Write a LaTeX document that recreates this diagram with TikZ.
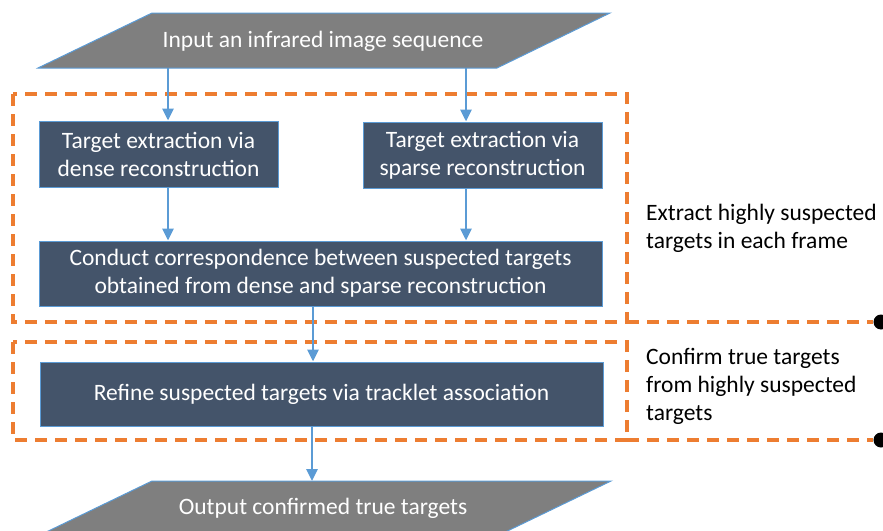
\documentclass[tikz,border=0pt]{standalone}
\usepackage{fontspec}
\setmainfont{Carlito}
\usetikzlibrary{arrows.meta}
\definecolor{boxfill}{HTML}{44546A}
\definecolor{edgeblue}{HTML}{5B9BD5}
\definecolor{iogray}{HTML}{7F7F7F}
\definecolor{orng}{HTML}{ED7D31}
\tikzset{
  txt/.style={font=\fontsize{23.5}{28}\selectfont},
  procbox/.style={txt, draw=edgeblue, line width=1pt, fill=boxfill, text=white, align=center, inner sep=0pt},
  iotext/.style={txt, text=white, inner sep=0pt},
  iofill/.style={draw=edgeblue, line width=1pt, fill=iogray},
  flow/.style={draw=edgeblue, line width=2.8pt, -{Triangle[length=12pt,width=11pt]}},
  group/.style={draw=orng, line width=4pt, dash pattern=on 12pt off 8pt},
  note/.style={txt, align=left, anchor=west, inner sep=0pt},
  enddot/.style={circle, fill=black, inner sep=0pt, minimum size=15pt}
}
\begin{document}
\begin{tikzpicture}[x=1pt,y=1pt]
\useasboundingbox (0,0) rectangle (883,-530);
% input parallelogram
\path[iofill] (152,-13) -- (610,-13) -- (497,-68) -- (38,-68) -- cycle;
\node[iotext] (input) at (323,-41) {Input an infrared image sequence};
\coordinate (inL) at (168,-68);
\coordinate (inR) at (466,-68);
% output parallelogram
\path[iofill] (152,-481) -- (611,-481) -- (497,-536) -- (38,-536) -- cycle;
\node[iotext] (output) at (323,-508) {Output confirmed true targets};
\coordinate (outT) at (312,-481);
% group boxes
\draw[group] (13,-94) rectangle (627,-322);
\draw[group] (13,-342) rectangle (627,-440);
\node[enddot] (dot1) at (881,-322) {};
\node[enddot] (dot2) at (881,-440) {};
\coordinate (g1) at (627,-322);
\coordinate (g2) at (627,-440);
\draw[group] (g1) -- (dot1.west);
\draw[group] (g2) -- (dot2.west);
% process boxes
\node[procbox, minimum width=239pt, minimum height=66pt] (dense) at (158.5,-154) {Target extraction via\\dense reconstruction};
\node[procbox, minimum width=239pt, minimum height=66pt] (sparse) at (482.5,-155) {Target extraction via\\sparse reconstruction};
\node[procbox, minimum width=563pt, minimum height=65pt] (corr) at (320.5,-273.5) {Conduct correspondence between suspected targets\\obtained from dense and sparse reconstruction};
\node[procbox, minimum width=563pt, minimum height=64pt] (refine) at (321.5,-394) {Refine suspected targets via tracklet association};
% connectors
\draw[flow] (inL) -- (inL |- dense.north);
\draw[flow] (inR) -- (inR |- sparse.north);
\draw[flow] (inL |- dense.south) -- (inL |- corr.north);
\draw[flow] (inR |- sparse.south) -- (inR |- corr.north);
\draw[flow] (313,-306) coordinate (cb) -- (cb |- refine.north);
\draw[flow] (outT |- refine.south) -- (outT);
% notes
\node[note] (n1) at (646,-228) {Extract highly suspected\\targets in each frame};
\node[note] (n2) at (646,-386) {Confirm true targets\\from highly suspected\\targets};
\end{tikzpicture}
\end{document}
